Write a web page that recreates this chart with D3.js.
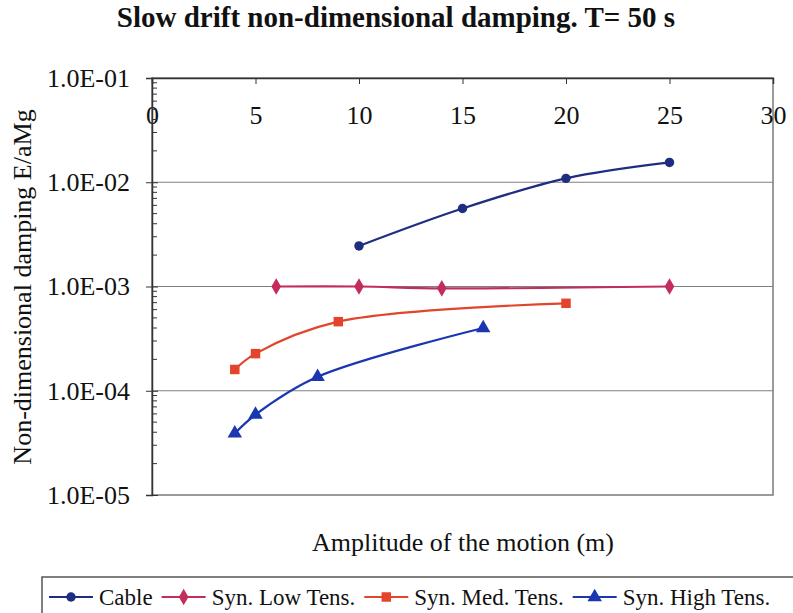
<!DOCTYPE html>
<html>
<head>
<meta charset="utf-8">
<script src="https://cdn.jsdelivr.net/npm/d3@7"></script>
<style>
  body { margin: 0; background: #fff; }
  svg text { font-family: "Liberation Serif", "Times New Roman", serif; fill: #111; }
</style>
</head>
<body>
<svg id="chart" width="793" height="613"></svg>
<script>
// data
var cableX = [10, 15, 20, 25];
var cableY = [2.45e-3, 5.6e-3, 1.09e-2, 1.55e-2];

var lowX = [6, 10, 14, 25];
var lowY = [1.0e-3, 1.0e-3, 0.96e-3, 1.0e-3];

var medX = [4, 5, 9, 20];
var medY = [1.6e-4, 2.27e-4, 4.6e-4, 6.9e-4];

var highX = [4, 5, 8, 16];
var highY = [3.9e-5, 5.9e-5, 1.36e-4, 4.0e-4];

var xTicks = [0, 5, 10, 15, 20, 25, 30];
var yTicks = [1e-1, 1e-2, 1e-3, 1e-4, 1e-5];
var yTickLabels = ['1.0E-01', '1.0E-02', '1.0E-03', '1.0E-04', '1.0E-05'];

var seriesNames = ['Cable', 'Syn. Low Tens.', 'Syn. Med. Tens.', 'Syn. High Tens.'];

// chart properties
var margin = { top: 78, right: 20, bottom: 118, left: 152 };
var width = 773 - margin.left;
var height = 495 - margin.top;

var svg = d3.select('#chart');
var g = svg.append('g')
    .attr('transform', 'translate(' + margin.left + ',' + margin.top + ')');

var x = d3.scaleLinear().domain([0, 30]).range([0, width]);
var y = d3.scaleLog().domain([1e-5, 1e-1]).range([height, 0]);

var series = [
    { name: seriesNames[0], xs: cableX, ys: cableY, color: '#1f2d80', symbol: d3.symbolCircle, size: 70 },
    { name: seriesNames[1], xs: lowX, ys: lowY, color: '#c22d5c', symbol: d3.symbolDiamond, size: 80 },
    { name: seriesNames[2], xs: medX, ys: medY, color: '#e2452b', symbol: d3.symbolSquare, size: 90 },
    { name: seriesNames[3], xs: highX, ys: highY, color: '#1a36b0', symbol: d3.symbolTriangle, size: 90 }
];

// gridlines
g.selectAll('.grid')
    .data(yTicks.slice(1, 4))
  .enter().append('line')
    .attr('x1', 0).attr('x2', width)
    .attr('y1', function (d) { return y(d); })
    .attr('y2', function (d) { return y(d); })
    .attr('stroke', '#808080')
    .attr('stroke-width', 1.2);

// plot border
g.append('rect')
    .attr('width', width).attr('height', height)
    .attr('fill', 'none')
    .attr('stroke', '#7a7a7a')
    .attr('stroke-width', 1.5);

// x axis on top, labels below the line
var xAxis = g.append('g')
    .call(d3.axisBottom(x).tickValues(xTicks).tickSize(6).tickPadding(22).tickFormat(d3.format('d')));
xAxis.select('.domain').attr('stroke', '#333').attr('stroke-width', 1.5);
xAxis.selectAll('.tick line').attr('stroke', '#333');
xAxis.selectAll('text')
    .style('font-size', '26px')
    .attr('fill', '#111');

// y axis, minor ticks inside
var minor = [];
for (var e = -5; e < -1; e++) {
    for (var m = 2; m <= 9; m++) minor.push(m * Math.pow(10, e));
}
g.selectAll('.minor')
    .data(minor)
  .enter().append('line')
    .attr('x1', 0).attr('x2', 5)
    .attr('y1', function (d) { return y(d); })
    .attr('y2', function (d) { return y(d); })
    .attr('stroke', '#333');

var yAxis = g.append('g')
    .call(d3.axisLeft(y).tickValues(yTicks).tickSize(6).tickPadding(16)
        .tickFormat(function (d, i) { return yTickLabels[i]; }));
yAxis.select('.domain').attr('stroke', '#333').attr('stroke-width', 1.5);
yAxis.selectAll('.tick line').attr('x2', 6).attr('x1', -6).attr('stroke', '#333');
yAxis.selectAll('text')
    .style('font-size', '26px')
    .attr('fill', '#111');

// lines and markers
var line = d3.line()
    .x(function (d) { return x(d[0]); })
    .y(function (d) { return y(d[1]); })
    .curve(d3.curveCatmullRom.alpha(0.5));

series.forEach(function (s) {
    var pts = s.xs.map(function (v, i) { return [v, s.ys[i]]; });
    g.append('path')
        .datum(pts)
        .attr('d', line)
        .attr('fill', 'none')
        .attr('stroke', s.color)
        .attr('stroke-width', 2.2);
    g.selectAll(null)
        .data(pts)
      .enter().append('path')
        .attr('d', d3.symbol().type(s.symbol).size(s.size))
        .attr('transform', function (d) { return 'translate(' + x(d[0]) + ',' + y(d[1]) + ')'; })
        .attr('fill', s.color);
});

// titles
svg.append('text')
    .attr('x', 396).attr('y', 27)
    .attr('text-anchor', 'middle')
    .style('font-size', '29px')
    .style('font-weight', 'bold')
    .text('Slow drift non-dimensional damping. T= 50 s');

svg.append('text')
    .attr('x', 463).attr('y', 551)
    .attr('text-anchor', 'middle')
    .style('font-size', '26px')
    .text('Amplitude of the motion (m)');

svg.append('text')
    .attr('transform', 'translate(31,287) rotate(-90)')
    .attr('text-anchor', 'middle')
    .style('font-size', '26px')
    .text('Non-dimensional damping E/aMg');

// legend, items laid out one after another
var legend = svg.append('g');
legend.append('rect')
    .attr('x', 42).attr('y', 577)
    .attr('width', 760).attr('height', 50)
    .attr('fill', '#fff')
    .attr('stroke', '#555')
    .attr('stroke-width', 1.5);

var lx = 49;
series.forEach(function (s) {
    var item = legend.append('g').attr('transform', 'translate(' + lx + ',597)');
    item.append('line')
        .attr('x1', 0).attr('x2', 44)
        .attr('stroke', s.color).attr('stroke-width', 2.2);
    item.append('path')
        .attr('d', d3.symbol().type(s.symbol).size(s.size))
        .attr('transform', 'translate(22,0)')
        .attr('fill', s.color);
    var t = item.append('text')
        .attr('x', 50).attr('y', 8)
        .style('font-size', '23px')
        .text(s.name);
    lx += 50 + t.node().getComputedTextLength() + 9;
});
</script>
</body>
</html>
